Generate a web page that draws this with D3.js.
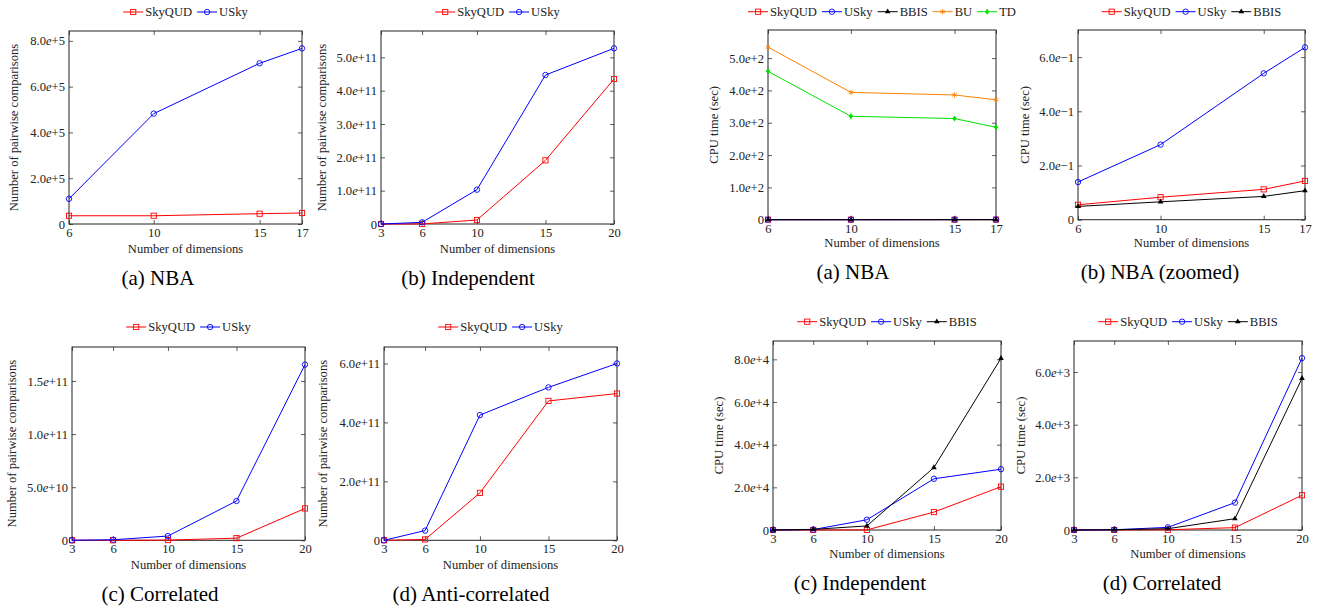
<!DOCTYPE html>
<html><head><meta charset="utf-8">
<script src="https://cdn.jsdelivr.net/npm/d3@7"></script>
<style>
body{margin:0;background:#fff}
svg text{font-family:'Liberation Serif','DejaVu Serif','Noto Serif',serif;font-size:12.6px;fill:#222}
</style>
</head><body><svg id="chart" width="1321" height="609" font-family="Liberation Serif, DejaVu Serif, serif"></svg>
<script>
// ---------- data ----------
const dimsNBA = [6, 10, 15, 17];
const dimsSyn = [3, 6, 10, 15, 20];

// Number of pairwise comparisons
const cmpNBA_SkyQUD = [3.6e4, 3.6e4, 4.5e4, 4.8e4];
const cmpNBA_USky   = [1.10e5, 4.82e5, 7.02e5, 7.67e5];
const cmpInd_SkyQUD = [0, 0.002e11, 0.12e11, 1.91e11, 4.35e11];
const cmpInd_USky   = [0, 0.05e11, 1.03e11, 4.47e11, 5.27e11];
const cmpCor_SkyQUD = [0, 0, 0.02e10, 0.2e10, 3.0e10];
const cmpCor_USky   = [0, 0.05e10, 0.4e10, 3.7e10, 1.654e11];
const cmpAnt_SkyQUD = [0, 0.03e11, 1.61e11, 4.73e11, 4.98e11];
const cmpAnt_USky   = [0, 0.33e11, 4.25e11, 5.19e11, 6.0e11];

// CPU time (sec)
const cpuNBA_SkyQUD = [0.055, 0.083, 0.112, 0.143];
const cpuNBA_USky   = [0.139, 0.277, 0.540, 0.636];
const cpuNBA_BBIS   = [0.049, 0.066, 0.086, 0.107];
const cpuNBA_BU     = [534, 394, 386, 371];
const cpuNBA_TD     = [459, 320, 313, 286];
const cpuInd_SkyQUD = [0, 0, 50, 8400, 20300];
const cpuInd_USky   = [0, 200, 4800, 24000, 28500];
const cpuInd_BBIS   = [0, 300, 1900, 29300, 80500];
const cpuCor_SkyQUD = [0, 0, 10, 90, 1320];
const cpuCor_USky   = [0, 10, 100, 1040, 6530];
const cpuCor_BBIS   = [0, 10, 50, 430, 5760];

// tick values
const yTicksCmpNBA = [0, 2e5, 4e5, 6e5, 8e5];
const yTicksCmpInd = [0, 1e11, 2e11, 3e11, 4e11, 5e11];
const yTicksCmpCor = [0, 5e10, 1e11, 1.5e11];
const yTicksCmpAnt = [0, 2e11, 4e11, 6e11];
const yTicksCpuNBA = [0, 1e2, 2e2, 3e2, 4e2, 5e2];
const yTicksCpuZoom = [0, 2e-1, 4e-1, 6e-1];
const yTicksCpuInd = [0, 2e4, 4e4, 6e4, 8e4];
const yTicksCpuCor = [0, 2e3, 4e3, 6e3];

const labelCmp = "Number of pairwise comparisons";
const labelCpu = "CPU time (sec)";
const labelX = "Number of dimensions";

// ---------- styles ----------
const styles = {
  SkyQUD: {color: "#ff0000", mark: "square"},
  USky:   {color: "#0000ff", mark: "circle"},
  BBIS:   {color: "#000000", mark: "triangle"},
  BU:     {color: "#ff8000", mark: "star"},
  TD:     {color: "#00e000", mark: "diamond"}
};

// ---------- panel layout ----------
const panels = [
  {x0:69, x1:302, y0:31, y1:224, xd:[6,17], ymax:8.43e5, dims:dimsNBA, yTicks:yTicksCmpNBA, ylab:labelCmp, ylx:14,
   series:[["SkyQUD",cmpNBA_SkyQUD],["USky",cmpNBA_USky]], legY:12, xlabY:253, cap:"(a) NBA", capX:158, capY:285},
  {x0:381, x1:614, y0:31, y1:224, xd:[3,20], ymax:5.79e11, dims:dimsSyn, yTicks:yTicksCmpInd, ylab:labelCmp, ylx:322,
   series:[["SkyQUD",cmpInd_SkyQUD],["USky",cmpInd_USky]], legY:12, xlabY:253, cap:"(b) Independent", capX:468, capY:285},
  {x0:768, x1:996, y0:30, y1:219.7, xd:[6,17], ymax:5.87e2, dims:dimsNBA, yTicks:yTicksCpuNBA, ylab:labelCpu, ylx:714,
   series:[["SkyQUD",cpuNBA_SkyQUD],["USky",cpuNBA_USky],["BBIS",cpuNBA_BBIS],["BU",cpuNBA_BU],["TD",cpuNBA_TD]],
   legY:11.7, xlabY:247, cap:"(a) NBA", capX:853, capY:279},
  {x0:1078, x1:1305, y0:30, y1:219.7, xd:[6,17], ymax:0.70, dims:dimsNBA, yTicks:yTicksCpuZoom, ylab:labelCpu, ylx:1025,
   series:[["SkyQUD",cpuNBA_SkyQUD],["USky",cpuNBA_USky],["BBIS",cpuNBA_BBIS]],
   legY:11.7, xlabY:247, cap:"(b) NBA (zoomed)", capX:1160, capY:279},
  {x0:72, x1:305, y0:347, y1:540.3, xd:[3,20], ymax:1.82e11, dims:dimsSyn, yTicks:yTicksCmpCor, ylab:labelCmp, ylx:12,
   series:[["SkyQUD",cmpCor_SkyQUD],["USky",cmpCor_USky]], legY:327, xlabY:569, cap:"(c) Correlated", capX:160, capY:601},
  {x0:384, x1:617, y0:347, y1:540.3, xd:[3,20], ymax:6.56e11, dims:dimsSyn, yTicks:yTicksCmpAnt, ylab:labelCmp, ylx:323,
   series:[["SkyQUD",cmpAnt_SkyQUD],["USky",cmpAnt_USky]], legY:327, xlabY:569, cap:"(d) Anti-correlated", capX:471, capY:601},
  {x0:773, x1:1001, y0:341, y1:530, xd:[3,20], ymax:8.86e4, dims:dimsSyn, yTicks:yTicksCpuInd, ylab:labelCpu, ylx:719,
   series:[["SkyQUD",cpuInd_SkyQUD],["USky",cpuInd_USky],["BBIS",cpuInd_BBIS]], legY:321.7, xlabY:558, cap:"(c) Independent", capX:860, capY:590},
  {x0:1074, x1:1302, y0:341, y1:530, xd:[3,20], ymax:7.18e3, dims:dimsSyn, yTicks:yTicksCpuCor, ylab:labelCpu, ylx:1021,
   series:[["SkyQUD",cpuCor_SkyQUD],["USky",cpuCor_USky],["BBIS",cpuCor_BBIS]], legY:321.7, xlabY:558, cap:"(d) Correlated", capX:1162, capY:590}
];

const svg = d3.select("#chart");

function drawMark(g, type, color, cx, cy) {
  if (type === "square") {
    g.append("rect").attr("x", cx-2.6).attr("y", cy-2.6).attr("width", 5.2).attr("height", 5.2)
      .attr("fill", "none").attr("stroke", color).attr("stroke-width", 0.9);
  } else if (type === "circle") {
    g.append("circle").attr("cx", cx).attr("cy", cy).attr("r", 2.7)
      .attr("fill", "none").attr("stroke", color).attr("stroke-width", 0.9);
  } else if (type === "triangle") {
    const s = d3.symbol().type(d3.symbolTriangle).size(14);
    g.append("path").attr("d", s()).attr("transform", `translate(${cx},${cy})`).attr("fill", color);
  } else if (type === "diamond") {
    g.append("path").attr("d", `M${cx},${cy-3}L${cx+2.2},${cy}L${cx},${cy+3}L${cx-2.2},${cy}Z`).attr("fill", color);
  } else if (type === "star") {
    const r = 2.6;
    let d = "";
    for (let k = 0; k < 3; k++) {
      const a = Math.PI/2 + k*Math.PI/3;
      d += `M${cx-r*Math.cos(a)},${cy-r*Math.sin(a)}L${cx+r*Math.cos(a)},${cy+r*Math.sin(a)}`;
    }
    g.append("path").attr("d", d).attr("stroke", color).attr("stroke-width", 0.9).attr("fill", "none");
  }
}

function sciLabel(textSel, v) {
  textSel.text(null);
  if (v === 0) { textSel.text("0"); return; }
  const ex = Math.floor(Math.log10(Math.abs(v)) + 1e-9);
  const m = v / Math.pow(10, ex);
  textSel.append("tspan").text(m.toFixed(1));
  textSel.append("tspan").attr("font-style", "italic").text("e");
  textSel.append("tspan").text(ex < 0 ? "\u2212" + (-ex) : "+" + ex);
}

panels.forEach(p => {
  const g = svg.append("g");
  const x = d3.scaleLinear().domain(p.xd).range([p.x0, p.x1]);
  const y = d3.scaleLinear().domain([0, p.ymax]).range([p.y1, p.y0]);

  // axes
  const ax = g.append("g").attr("transform", `translate(0,${p.y1})`)
    .call(d3.axisBottom(x).tickValues(p.dims).tickSize(-4).tickPadding(4).tickFormat(d3.format("d")));
  const ay = g.append("g").attr("transform", `translate(${p.x0},0)`)
    .call(d3.axisLeft(y).tickValues(p.yTicks).tickSize(-4).tickPadding(4));
  const at = g.append("g").attr("transform", `translate(0,${p.y0})`)
    .call(d3.axisTop(x).tickValues(p.dims).tickSize(-4).tickFormat(""));
  const ar = g.append("g").attr("transform", `translate(${p.x1},0)`)
    .call(d3.axisRight(y).tickValues(p.yTicks).tickSize(-4).tickFormat(""));
  [ax, ay, at, ar].forEach(a => {
    a.attr("font-size", null).attr("font-family", null);
    a.select(".domain").remove();
    a.selectAll(".tick line").attr("stroke", "#333").attr("stroke-width", 0.8);
  });
  ay.selectAll(".tick text").each(function(d){ sciLabel(d3.select(this), d); });

  // frame
  g.append("rect").attr("x", p.x0).attr("y", p.y0).attr("width", p.x1-p.x0).attr("height", p.y1-p.y0)
    .attr("fill", "none").attr("stroke", "#222").attr("stroke-width", 1);

  // series
  const line = d3.line().x((d,i) => x(p.dims[i])).y(d => y(d));
  p.series.forEach(([name, vals]) => {
    const st = styles[name];
    g.append("path").datum(vals).attr("d", line).attr("fill", "none")
      .attr("stroke", st.color).attr("stroke-width", 1);
    const mg = g.append("g");
    vals.forEach((v, i) => drawMark(mg, st.mark, st.color, x(p.dims[i]), y(v)));
  });

  // labels
  g.append("text").attr("x", (p.x0+p.x1)/2).attr("y", p.xlabY).attr("text-anchor", "middle").text(labelX);
  g.append("text").attr("transform", `translate(${p.ylx},${(p.y0+p.y1)/2}) rotate(-90)`)
    .attr("text-anchor", "middle").attr("dominant-baseline", "central").text(p.ylab);
  g.append("text").attr("x", p.capX).attr("y", p.capY).attr("text-anchor", "middle")
    .style("font-size", "21px").style("fill", "#000").text(p.cap);

  // legend
  const lg = g.append("g");
  let cx = 0;
  p.series.forEach(([name]) => {
    const st = styles[name];
    lg.append("line").attr("x1", cx).attr("x2", cx+20).attr("y1", 0).attr("y2", 0)
      .attr("stroke", st.color).attr("stroke-width", 1);
    drawMark(lg, st.mark, st.color, cx+10, 0);
    const t = lg.append("text").attr("x", cx+22).attr("y", 0).attr("dominant-baseline", "central").text(name);
    cx += 22 + t.node().getComputedTextLength() + 5;
  });
  const total = cx - 5;
  lg.attr("transform", `translate(${(p.x0+p.x1)/2 - total/2},${p.legY})`);
});
</script>
</body></html>
